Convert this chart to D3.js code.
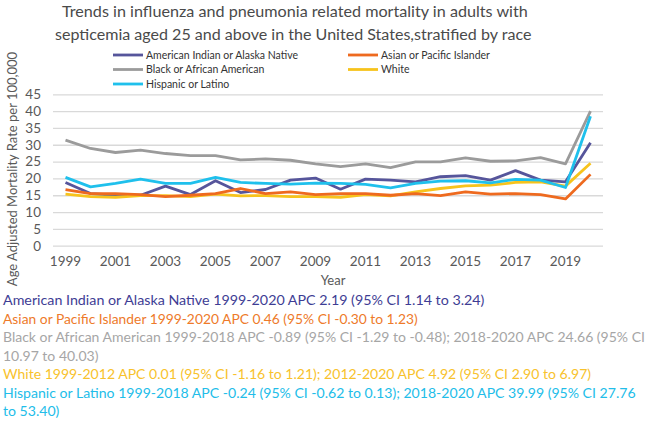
<!DOCTYPE html>
<html><head><meta charset="utf-8">
<script src="https://cdn.jsdelivr.net/npm/d3@7"></script>
<style>body{margin:0;background:#fff}svg{display:block}text{font-family:Lato,"Open Sans",sans-serif}</style>
</head><body><svg id="c" width="650" height="426"></svg>
<script>
const years = d3.range(1999, 2021);
const tickYears = [1999,2001,2003,2005,2007,2009,2011,2013,2015,2017,2019];
const yTicks = [0,5,10,15,20,25,30,35,40,45];
const seriesNames = ["American Indian or Alaska Native","Asian or Pacific Islander","Black or African American","White","Hispanic or Latino"];
const aian     = [18.8,15.5,15.0,15.0,17.7,15.2,19.3,15.8,16.7,19.5,20.1,16.8,19.8,19.5,19.0,20.5,20.8,19.5,22.3,19.5,19.0,30.6];
const asian    = [16.7,15.5,15.5,15.2,14.6,15.0,15.5,17.0,15.5,16.0,15.2,15.5,15.5,15.0,15.5,14.9,16.0,15.3,15.5,15.2,13.9,21.2];
const black    = [31.4,28.9,27.7,28.4,27.4,26.8,26.8,25.5,25.8,25.4,24.3,23.5,24.3,23.2,24.9,24.9,26.1,25.1,25.2,26.2,24.3,40.0];
const white    = [15.3,14.6,14.4,14.9,14.9,14.6,15.3,14.8,14.9,14.6,14.6,14.4,15.2,14.8,16.0,17.0,17.8,18.0,18.8,19.0,17.7,24.5];
const hispanic = [20.3,17.5,18.5,19.8,18.5,18.5,20.3,18.8,18.5,18.3,18.6,18.5,18.2,17.2,18.5,19.2,19.3,18.7,19.7,19.5,17.3,38.5];
const seriesValues = [aian, asian, black, white, hispanic];
const titleLines = ["Trends in influenza and pneumonia related mortality in adults with","septicemia aged 25 and above in the United States,stratified by race"];
const notes = [
 ["American Indian or Alaska Native 1999-2020 APC 2.19 (95% CI 1.14 to 3.24)",0],
 ["Asian or Pacific Islander 1999-2020 APC 0.46 (95% CI -0.30 to 1.23)",1],
 ["Black or African American 1999-2018 APC -0.89 (95% CI -1.29 to -0.48); 2018-2020 APC 24.66 (95% CI",2],
 ["10.97 to 40.03)",2],
 ["White 1999-2012 APC 0.01 (95% CI -1.16 to 1.21); 2012-2020 APC 4.92 (95% CI 2.90 to 6.97)",3],
 ["Hispanic or Latino 1999-2018 APC -0.24 (95% CI -0.62 to 0.13); 2018-2020 APC 39.99 (95% CI 27.76",4],
 ["to 53.40)",4]
];

const lineColors = ["#56559b","#ee6a1f","#9b9b9b","#f7c31c","#1fc0ec"];
const textColors = ["#3e3d94","#ee7a2a","#a6a6a6","#f8c22c","#22bde9"];

const svg = d3.select("#c");
const x = d3.scaleBand().domain(years).range([53, 603]);
const y = d3.scaleLinear().domain([0,45]).range([245.7, 94.3]);

function place(node, x0, yb, s){
  d3.select(node).attr("x",0).attr("y",0).attr("transform",`translate(${x0},${yb}) scale(${s},1)`);
}

// title
const tt = svg.selectAll("text.title").data(titleLines).join("text").attr("class","title")
  .attr("font-size",16).attr("fill","#4a4a4a").text(d=>d);
const titleSpan = [[62,466],[55,477]];
tt.each(function(d,i){ place(this, titleSpan[i][0], 17+i*22.5, titleSpan[i][1]/this.getComputedTextLength()); });

// grid
const gy = svg.append("g").attr("transform","translate(53,0)")
  .call(d3.axisLeft(y).tickValues(yTicks).tickSize(-550).tickFormat(d3.format("d")));
gy.select(".domain").remove();
gy.selectAll(".tick line").attr("stroke","#d9d9d9").attr("stroke-width",1.3);
gy.selectAll(".tick text").attr("x",-12).attr("font-size",13.5).attr("fill","#595959").attr("font-family","Lato,sans-serif");

const gx = svg.append("g").attr("transform","translate(0,246)")
  .call(d3.axisBottom(x).tickValues(tickYears).tickSize(0));
gx.select(".domain").remove();
gx.selectAll(".tick text").attr("y",10).attr("font-size",13.5).attr("fill","#595959").attr("font-family","Lato,sans-serif");

svg.append("text").attr("x",333).attr("y",285).attr("text-anchor","middle").attr("font-size",13).attr("fill","#595959").text("Year");
svg.append("text").attr("transform","translate(17,169) rotate(-90)").attr("text-anchor","middle")
  .attr("font-size",13).attr("fill","#595959").text("Age Adjusted Mortality Rate per 100,000");

// lines
const line = d3.line().x((d,i)=>x(years[i])+x.bandwidth()/2).y(d=>y(d));
const drawOrder = [2,0,3,1,4];
svg.append("g").selectAll("path").data(drawOrder).join("path")
  .attr("d",k=>line(seriesValues[k])).attr("fill","none").attr("stroke",k=>lineColors[k])
  .attr("stroke-width",2.8).attr("stroke-linejoin","round");

// legend
const legPos = [[113,55],[348,55],[113,69.5],[348,69.5],[113,84]];
const lg = svg.append("g").selectAll("g").data(seriesNames).join("g")
  .attr("transform",(d,i)=>`translate(${legPos[i][0]},${legPos[i][1]})`);
lg.append("line").attr("x1",0).attr("x2",30).attr("stroke",(d,i)=>lineColors[i]).attr("stroke-width",2.8);
lg.append("text").attr("x",33).attr("y",3.8).attr("font-size",10.5).attr("fill","#333").text(d=>d);

// notes: lines with a known target width set the horizontal scale; others reuse it
const noteTargets = [482,415,642,null,null,633,null];
const nt = svg.selectAll("text.note").data(notes).join("text").attr("class","note")
  .attr("font-size",14).attr("fill",d=>textColors[d[1]]).text(d=>d[0]);
const nodes = nt.nodes();
const scales = nodes.map((n,i)=> noteTargets[i] ? noteTargets[i]/n.getComputedTextLength() : null);
const known = scales.filter(s=>s);
const avg = d3.mean(known);
scales[3] = scales[2]; scales[6] = scales[5]; scales[4] = avg;
nodes.forEach((n,i)=> place(n, 3, 305+i*18.5, scales[i]));
</script></body></html>
